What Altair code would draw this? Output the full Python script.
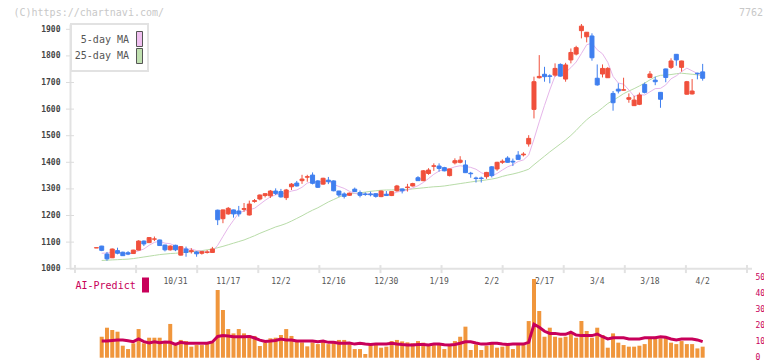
import altair as alt
import pandas as pd

# ---------------- data ----------------
opens = [1078, 1085, 1055, 1041, 1068, 1062, 1060, 1057, 1070, 1104,
         1098, 1111, 1108, 1089, 1071, 1088, 1051, 1074, 1064, 1063,
         1058, 1061, 1061, 1220, 1188, 1206, 1221, 1217, 1223, 1202,
         1253, 1262, 1275, 1274, 1292, 1290, 1267, 1308, 1322, 1331,
         1344, 1352, 1330, 1318, 1333, 1330, 1292, 1281, 1276, 1299,
         1286, 1281, 1281, 1282, 1271, 1280, 1275, 1293, 1300, 1305,
         1311, 1342, 1331, 1358, 1385, 1386, 1380, 1350, 1398, 1400,
         1390, 1359, 1341, 1341, 1346, 1383, 1375, 1400, 1416, 1404,
         1427, 1428, 1469, 1599, 1718, 1731, 1725, 1728, 1768, 1713,
         1785, 1807, 1895, 1872, 1875, 1716, 1732, 1718, 1659, 1675,
         1671, 1637, 1613, 1618, 1693, 1719, 1709, 1663, 1751, 1757,
         1806, 1757, 1656, 1657, 1735, 1740]
highs = [1079, 1086, 1063, 1076, 1079, 1064, 1066, 1071, 1107, 1106,
         1118, 1121, 1109, 1090, 1088, 1090, 1085, 1083, 1077, 1066,
         1066, 1070, 1082, 1222, 1222, 1232, 1222, 1236, 1247, 1256,
         1262, 1279, 1283, 1296, 1302, 1300, 1300, 1322, 1330, 1353,
         1353, 1362, 1333, 1342, 1345, 1332, 1293, 1287, 1286, 1305,
         1294, 1287, 1290, 1283, 1294, 1292, 1292, 1315, 1301, 1319,
         1323, 1348, 1371, 1378, 1396, 1396, 1383, 1376, 1415, 1423,
         1408, 1364, 1346, 1346, 1364, 1386, 1402, 1411, 1423, 1414,
         1442, 1438, 1502, 1722, 1803, 1759, 1731, 1772, 1772, 1774,
         1828, 1838, 1920, 1890, 1885, 1768, 1768, 1758, 1668, 1697,
         1718, 1659, 1650, 1662, 1700, 1743, 1722, 1664, 1752, 1791,
         1807, 1782, 1706, 1713, 1737, 1770]
lows = [1078, 1066, 1030, 1040, 1054, 1048, 1051, 1056, 1069, 1085,
        1097, 1104, 1086, 1065, 1068, 1066, 1050, 1045, 1057, 1045,
        1053, 1057, 1060, 1164, 1171, 1203, 1192, 1196, 1214, 1200,
        1248, 1257, 1268, 1266, 1277, 1267, 1258, 1296, 1309, 1319,
        1327, 1317, 1304, 1316, 1318, 1291, 1269, 1264, 1274, 1288,
        1268, 1274, 1272, 1267, 1269, 1274, 1273, 1290, 1283, 1290,
        1309, 1330, 1329, 1353, 1368, 1365, 1366, 1347, 1392, 1396,
        1360, 1342, 1324, 1324, 1338, 1343, 1368, 1394, 1399, 1386,
        1410, 1422, 1459, 1565, 1715, 1703, 1697, 1722, 1722, 1703,
        1772, 1802, 1866, 1851, 1782, 1688, 1719, 1717, 1594, 1659,
        1670, 1624, 1612, 1615, 1659, 1716, 1690, 1605, 1701, 1751,
        1763, 1741, 1655, 1655, 1712, 1707]
closes = [1079, 1069, 1037, 1074, 1058, 1049, 1055, 1070, 1104, 1093,
          1117, 1112, 1087, 1071, 1085, 1071, 1083, 1061, 1068, 1056,
          1064, 1063, 1074, 1184, 1221, 1227, 1206, 1206, 1226, 1243,
          1256, 1277, 1282, 1292, 1283, 1270, 1296, 1318, 1311, 1337,
          1346, 1321, 1306, 1340, 1327, 1293, 1277, 1272, 1284, 1290,
          1276, 1279, 1278, 1272, 1292, 1275, 1290, 1311, 1293, 1307,
          1320, 1331, 1368, 1371, 1387, 1377, 1368, 1375, 1406, 1408,
          1361, 1357, 1339, 1339, 1362, 1350, 1400, 1404, 1400, 1401,
          1411, 1431, 1490, 1703, 1723, 1722, 1723, 1753, 1724, 1766,
          1813, 1831, 1912, 1889, 1793, 1691, 1753, 1753, 1624, 1668,
          1673, 1643, 1634, 1653, 1663, 1732, 1703, 1637, 1719, 1781,
          1785, 1781, 1703, 1668, 1733, 1716]
ma5 = [None, 1058, 1059, 1061, 1063, 1057, 1055, 1061, 1067, 1074,
       1088, 1099, 1103, 1096, 1094, 1085, 1079, 1074, 1074, 1068,
       1066, 1062, 1065, 1088, 1121, 1154, 1182, 1209, 1217, 1222,
       1227, 1242, 1257, 1270, 1278, 1281, 1285, 1292, 1296, 1306,
       1322, 1327, 1324, 1330, 1328, 1317, 1309, 1302, 1291, 1283,
       1280, 1280, 1281, 1279, 1279, 1279, 1281, 1288, 1292, 1295,
       1304, 1312, 1324, 1339, 1355, 1367, 1374, 1376, 1383, 1387,
       1384, 1381, 1374, 1361, 1352, 1349, 1358, 1371, 1383, 1391,
       1403, 1409, 1427, 1487, 1552, 1614, 1672, 1725, 1729, 1738,
       1756, 1777, 1809, 1842, 1848, 1823, 1808, 1776, 1723, 1698,
       1694, 1672, 1648, 1654, 1653, 1665, 1677, 1678, 1691, 1714,
       1725, 1741, 1754, 1744, 1734, 1720]
ma25 = [None, 1031, 1032, 1033, 1034, 1035, 1036, 1038, 1041, 1044,
        1047, 1050, 1053, 1055, 1057, 1058, 1060, 1062, 1064, 1066,
        1068, 1071, 1074, 1079, 1084, 1090, 1096, 1102, 1108, 1116,
        1124, 1133, 1141, 1149, 1157, 1163, 1170, 1179, 1189, 1199,
        1210, 1220, 1229, 1240, 1251, 1260, 1269, 1277, 1281, 1283,
        1285, 1288, 1291, 1293, 1295, 1296, 1296, 1297, 1297, 1298,
        1300, 1302, 1304, 1306, 1308, 1309, 1311, 1314, 1317, 1320,
        1323, 1326, 1329, 1331, 1334, 1337, 1341, 1347, 1352, 1356,
        1361, 1367, 1374, 1391, 1407, 1423, 1439, 1454, 1469, 1484,
        1501, 1520, 1541, 1560, 1576, 1589, 1605, 1621, 1633, 1645,
        1658, 1668, 1677, 1687, 1698, 1710, 1721, 1727, 1728, 1730,
        1733, 1735, 1733, 1731, 1729, 1726]
volume = [None, 13.1, 18.75, 17.3, 16.25, 7.5, 5.4, 9.0, 17.9, 9.0,
          12.5, 12.5, 12.5, 9.0, 21.1, 7.9, 11.1, 10.4, 6.9, 7.9,
          7.9, 9.0, 9.6, 42.3, 29.8, 17.9, 15.2, 17.9, 15.2, 14.2,
          13.6, 7.3, 9.4, 12.1, 12.5, 14.2, 17.9, 13.6, 10.4, 9.6,
          7.1, 9.6, 8.5, 10.4, 8.5, 9.4, 11.1, 11.1, 8.3, 5.4,
          5.4, 2.3, 8.3, 8.3, 6.25, 6.9, 10.4, 11.1, 10.2, 9.6,
          9.0, 10.4, 9.4, 7.9, 7.9, 8.3, 5.4, 7.3, 10.4, 13.1,
          19.4, 4.8, 8.3, 4.8, 7.5, 9.0, 6.25, 6.9, 7.9, 5.4,
          7.9, 9.0, 22.9, 49.2, 29.2, 13.1, 18.75, 13.1, 12.5, 13.1,
          15.7, 12.5, 22.9, 16.7, 12.5, 18.75, 14.2, 6.25, 15.2, 9.4,
          7.9, 6.9, 6.9, 7.5, 8.5, 12.1, 13.1, 12.1, 12.5, 9.4,
          8.5, 10.4, 8.5, 8.5, 5.8, 6.9]
ai_predict = [None, 10.4, 10.4, 10.8, 11.1, 11.1, 10.6, 10.0, 11.7, 10.0,
              9.2, 10.0, 9.4, 9.8, 9.6, 8.3, 9.6, 9.0, 9.0, 9.0,
              9.0, 9.0, 9.8, 13.3, 13.8, 13.5, 13.1, 13.1, 13.1, 13.3,
              12.3, 11.0, 10.2, 10.4, 10.8, 11.7, 11.1, 11.1, 10.4, 10.4,
              10.4, 10.4, 10.0, 10.4, 9.6, 9.6, 9.0, 9.0, 9.2, 8.5,
              9.0, 8.5, 8.3, 8.5, 8.5, 8.5, 9.0, 8.5, 8.2, 8.0,
              7.9, 8.3, 8.3, 7.9, 8.5, 8.5, 8.1, 7.9, 8.3, 9.0,
              10.0, 10.0, 9.2, 8.5, 8.5, 9.0, 9.0, 8.5, 8.3, 8.5,
              8.5, 8.5, 9.6, 20.9, 19.0, 16.5, 15.2, 15.2, 14.6, 14.6,
              15.9, 14.2, 13.8, 13.8, 13.8, 14.8, 13.1, 11.7, 12.5, 12.5,
              12.5, 11.7, 11.7, 11.7, 12.5, 12.5, 12.5, 13.1, 12.8, 11.7,
              11.1, 11.7, 11.7, 11.7, 11.1, 10.0]
date_labels = ["10/31", "11/17", "12/2", "12/16", "12/30", "1/19",
               "2/2", "2/17", "3/4", "3/18", "4/2"]
date_label_index = [15, 25, 35, 45, 55, 65, 75, 85, 95, 105, 115]
price_ticks = [1000, 1100, 1200, 1300, 1400, 1500, 1600, 1700, 1800, 1900]
volume_ticks = [0, 10, 20, 30, 40, 50]

# ---------------- frames ----------------
n = len(closes)
df = pd.DataFrame({
    "i": list(range(n)), "o": opens, "h": highs, "l": lows, "c": closes,
    "ma5": ma5, "ma25": ma25, "vol": volume, "ai": ai_predict,
})
df["dir"] = ["up" if c >= o else "down" for o, c in zip(opens, closes)]

W, H = 682, 334
X_LO, X_HI = -4.065, 123.41
xs = alt.Scale(domain=[X_LO, X_HI], nice=False, zero=False)
py = alt.Scale(domain=[1000, 1920], range=[244.7, 0], nice=False, zero=False)
vy = alt.Scale(domain=[0, 50], range=[333.7, 253.7], nice=False)

RED, BLUE = "#f0503c", "#3f7fef"
MONO = "DejaVu Sans Mono"
dir_scale = alt.Scale(domain=["up", "down"], range=[RED, BLUE])

pax = alt.Axis(orient="left", values=price_ticks, ticks=False, grid=False,
               domainColor="#e2e2e2", domainWidth=2, labelFont=MONO,
               labelFontSize=8, labelColor="#444", labelPadding=10,
               labelFontWeight="bold", format="d", title=None)
vax = alt.Axis(orient="right", values=volume_ticks, ticks=False, grid=False,
               domain=False, labelFont=MONO, labelFontSize=8,
               labelColor="#c8005a", labelPadding=3, format="d", title=None)
X = alt.X("i:Q", scale=xs, axis=None)

base = alt.Chart(df)

ma25_line = base.mark_line(color="#b8dca8", strokeWidth=1).encode(
    x=X, y=alt.Y("ma25:Q", scale=py, axis=pax))
ma5_line = base.mark_line(color="#e6b6ea", strokeWidth=1).encode(
    x=X, y=alt.Y("ma5:Q", scale=py, axis=pax))
wicks = base.mark_rule(strokeWidth=1).encode(
    x=X, y=alt.Y("l:Q", scale=py, axis=pax), y2="h:Q",
    color=alt.Color("dir:N", scale=dir_scale, legend=None))
bodies = base.mark_bar(size=4, strokeWidth=1).encode(
    x=X, y=alt.Y("o:Q", scale=py, axis=pax), y2="c:Q",
    color=alt.Color("dir:N", scale=dir_scale, legend=None),
    stroke=alt.Stroke("dir:N", scale=dir_scale, legend=None))

# axis line along the bottom of the price panel and its tick marks
base_df = pd.DataFrame({"p": [1000]})
base_line = alt.Chart(base_df).mark_rule(color="#e2e2e2", strokeWidth=2).encode(
    x=alt.value(0), x2=alt.value(W), y=alt.Y("p:Q", scale=py, axis=pax))
tick_df = pd.DataFrame({
    "t": [X_LO + k * (X_HI - X_LO) / 11 for k in range(12)],
    "a": [1013.5] * 12, "b": [983.5] * 12})
x_ticks = alt.Chart(tick_df).mark_rule(color="#e2e2e2", strokeWidth=2).encode(
    x=alt.X("t:Q", scale=xs, axis=None),
    y=alt.Y("a:Q", scale=py, axis=pax), y2="b:Q")
ytick_df = pd.DataFrame({"p": price_ticks})
y_ticks = alt.Chart(ytick_df).mark_rule(color="#dcdcdc", strokeWidth=1).encode(
    x=alt.value(-4), x2=alt.value(4), y=alt.Y("p:Q", scale=py, axis=pax))

price = alt.layer(ma25_line, ma5_line, wicks, bodies, base_line, x_ticks, y_ticks)

# lower panel
lab_df = pd.DataFrame({"i": date_label_index, "lab": date_labels})
dates = alt.Chart(lab_df).mark_text(font=MONO, fontSize=8, color="#555",
                                    baseline="middle").encode(
    x=alt.X("i:Q", scale=xs, axis=None), y=alt.value(258), text="lab:N")
vbars = base.mark_bar(size=4, color="#f0963c").encode(
    x=X, y=alt.Y("vol:Q", scale=vy, axis=vax))
ai_line = base.mark_line(color="#c8005a", strokeWidth=3).encode(
    x=X, y=alt.Y("ai:Q", scale=vy, axis=vax))
lower = alt.layer(dates, vbars, ai_line)

# decorations (legends, watermark)
one = pd.DataFrame({"k": [0]})
def txt(s, x, y, **kw):
    return alt.Chart(one).mark_text(font=MONO, baseline="middle", **kw).encode(
        x=alt.value(x), y=alt.value(y), text=alt.value(s))
def box(x1, x2, y1, y2, **kw):
    return alt.Chart(one).mark_rect(**kw).encode(
        x=alt.value(x1), x2=alt.value(x2), y=alt.value(y1), y2=alt.value(y2))

deco = alt.layer(
    txt("(C)https://chartnavi.com/", -56.5, -11.5, align="left", fontSize=10, color="#c8c8c8"),
    txt("7762", 693, -11.5, align="right", fontSize=10, color="#c8c8c8"),
    box(1, 78, 0, 47, fill="white", stroke="#e2e2e2", strokeWidth=2),
    txt("5-day MA", 59, 16, align="right", fontSize=10, color="#555"),
    txt("25-day MA", 59, 32, align="right", fontSize=10, color="#555"),
    box(66.5, 72.5, 7.5, 22.5, fill="#f0c0f0", stroke="#555", strokeWidth=1),
    box(66.5, 72.5, 24.5, 39.5, fill="#c0e0b0", stroke="#555", strokeWidth=1),
    txt("AI-Predict", 5.5, 262, align="left", fontSize=10, color="#c8005a"),
    box(72, 79, 253.5, 268.5, fill="#c8005a"),
)

chart = alt.layer(price, lower, deco).resolve_scale(
    y="independent", color="independent", stroke="independent"
).properties(
    width=W, height=H,
    autosize=alt.AutoSizeParams(type="none"),
    padding={"left": 62, "top": 16, "right": 12, "bottom": 3},
).configure_view(stroke=None)

chart.save("out.html", embed_options={"renderer": "svg", "actions": False})
